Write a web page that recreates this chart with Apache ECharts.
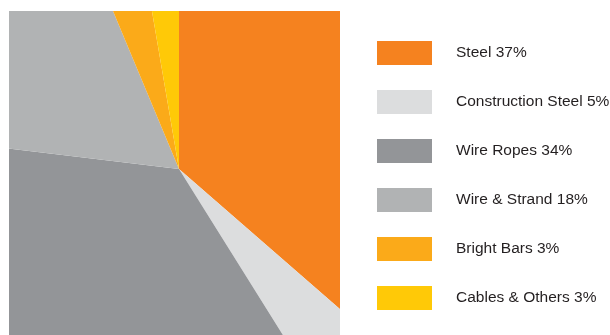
<!DOCTYPE html>
<html>
<head>
<meta charset="utf-8">
<script src="https://cdn.jsdelivr.net/npm/echarts@6/dist/echarts.min.js"></script>
<style>
  html, body { margin: 0; padding: 0; background: #fff; }
  #chart { width: 610px; height: 335px; }
</style>
</head>
<body>
<div id="chart"></div>
<script>
// product mix
const categories = ['Steel', 'Construction Steel', 'Wire Ropes', 'Wire & Strand', 'Bright Bars', 'Cables & Others'];
// percentages printed in the legend
const labelPercents = [37, 5, 34, 18, 3, 3];
// slice sizes as drawn (they don't quite match the printed %)
const sliceValues = [36.4, 4.7, 35.8, 16.8, 3.6, 2.7];
const colors = ['#F5821F', '#DCDDDE', '#939598', '#B1B3B4', '#FBAA19', '#FFC907'];

const chart = echarts.init(document.getElementById('chart'));

// the pie is much bigger than its panel; white panels around it crop it to a rectangle
function mask(x, y, w, h) {
  return {
    type: 'rect',
    x: x, y: y,
    shape: { x: 0, y: 0, width: w, height: h },
    style: { fill: '#ffffff' },
    silent: true,
    zlevel: 1,
    z: 100
  };
}

chart.setOption({
  animation: false,
  color: colors,
  legend: {
    orient: 'vertical',
    left: 377,
    top: 41,
    padding: 0,
    itemWidth: 55,
    itemHeight: 24,
    itemGap: 25,
    icon: 'rect',
    selectedMode: false,
    zlevel: 2,
    z: 200,
    formatter: function (name) {
      const i = categories.indexOf(name);
      return name + ' ' + labelPercents[i] + '%';
    },
    textStyle: {
      fontFamily: 'Liberation Sans',
      fontSize: 15.5,
      color: '#231F20',
      padding: [0, 0, 0, 19]
    }
  },
  graphic: [
    mask(0, 0, 9, 335),
    mask(0, 0, 610, 11),
    mask(340, 0, 270, 335)
  ],
  series: [
    {
      type: 'pie',
      center: [179, 169],
      radius: [0, 600],
      startAngle: 90,
      clockwise: true,
      label: { show: false },
      labelLine: { show: false },
      emphasis: { disabled: true },
      itemStyle: { borderWidth: 0 },
      data: categories.map(function (name, i) {
        return { name: name, value: sliceValues[i] };
      })
    }
  ]
});
</script>
</body>
</html>
